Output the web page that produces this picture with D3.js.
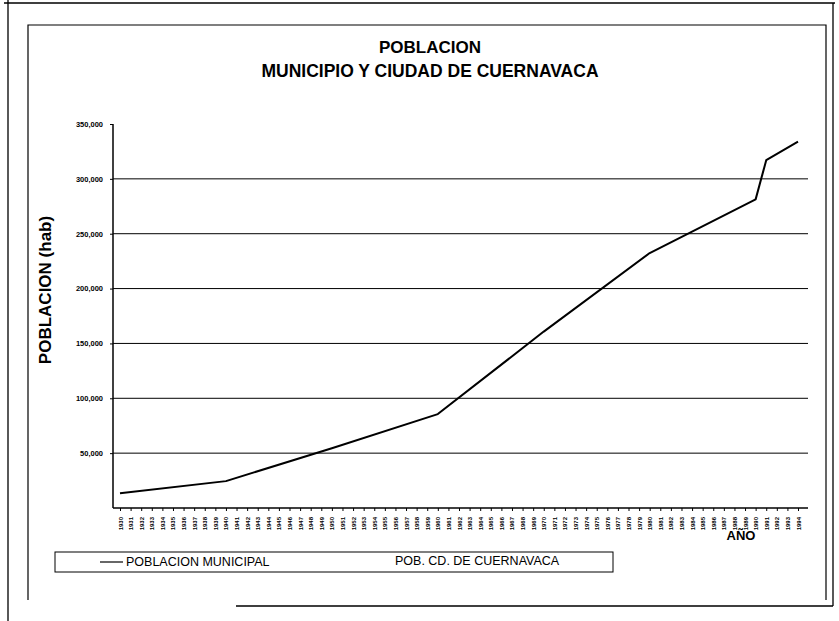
<!DOCTYPE html>
<html>
<head>
<meta charset="utf-8">
<script src="https://cdn.jsdelivr.net/npm/d3@7"></script>
<style>
  body { margin: 0; background: #fff; }
  svg { display: block; }
  .tick text { font-family: "Liberation Sans Narrow", "Liberation Sans", Arial, sans-serif; font-weight: bold; }
</style>
</head>
<body>
<svg id="canvas" width="839" height="621"></svg>
<script>
// category labels on the x axis (one per year)
var years = d3.range(1930, 1995);
// values at the visible break points of the curve
var pointYears = [1930, 1940, 1950, 1960, 1970, 1980, 1990, 1991, 1994];
var poblacion = [13500, 24500, 54500, 85600, 160800, 232400, 281300, 317000, 334000];
var yTicks = [50000, 100000, 150000, 200000, 250000, 300000, 350000];
var yTickLabels = ["50,000", "100,000", "150,000", "200,000", "250,000", "300,000", "350,000"];

var svg = d3.select("#canvas");

// page frame (scan borders)
svg.append("path")
    .attr("d", "M8,0 L8,621 M4,3 L835,3 M833,3 L833,606 M236,606 L833,606")
    .attr("fill", "none").attr("stroke", "#000").attr("stroke-width", 1.3);

// chart frame
svg.append("path")
    .attr("d", "M28,600 L28,25 L826,25 L826,600")
    .attr("fill", "none").attr("stroke", "#000").attr("stroke-width", 1.2);

// title
svg.append("text").attr("x", 430).attr("y", 53).attr("text-anchor", "middle")
    .attr("font-family", "Liberation Sans, Arial, sans-serif").attr("font-weight", "bold")
    .attr("font-size", 17).text("POBLACION");
svg.append("text").attr("x", 430).attr("y", 77).attr("text-anchor", "middle")
    .attr("font-family", "Liberation Sans, Arial, sans-serif").attr("font-weight", "bold")
    .attr("font-size", 17.5).text("MUNICIPIO Y CIUDAD DE CUERNAVACA");

var x = d3.scalePoint().domain(years).range([120, 798]);
var y = d3.scaleLinear().domain([0, 350000]).range([508, 124]);

// gridlines
svg.append("g").selectAll("line")
    .data(yTicks.slice(0, -1))
    .enter().append("line")
    .attr("x1", 113).attr("x2", 808)
    .attr("y1", function(d){ return y(d); })
    .attr("y2", function(d){ return y(d); })
    .attr("stroke", "#000").attr("stroke-width", 1);

// y axis
var yAxis = d3.axisLeft(y).tickValues(yTicks)
    .tickFormat(function(d, i){ return yTickLabels[i]; })
    .tickSize(3).tickPadding(7);
var gy = svg.append("g").attr("transform", "translate(113,0)").call(yAxis);
gy.select(".domain").attr("d", "M0,124V508").attr("stroke-width", 1.5);
gy.selectAll("text").attr("font-size", 7.5);

// x axis
var xAxis = d3.axisBottom(x).tickSize(3).tickPadding(3);
var gx = svg.append("g").attr("transform", "translate(0,508)").call(xAxis);
gx.select(".domain").attr("d", "M113,0H808").attr("stroke-width", 1.5);
gx.selectAll("text")
    .attr("font-size", 6)
    .attr("transform", "rotate(-90)")
    .attr("text-anchor", "end")
    .attr("x", -4).attr("y", 0)
    .attr("dx", -5).attr("dy", 2);

// axis titles
svg.append("text")
    .attr("transform", "translate(51,290) rotate(-90)")
    .attr("text-anchor", "middle")
    .attr("font-family", "Liberation Sans, Arial, sans-serif").attr("font-weight", "bold")
    .attr("font-size", 17).text("POBLACION (hab)");
svg.append("text").attr("x", 741).attr("y", 540).attr("text-anchor", "middle")
    .attr("font-family", "Liberation Sans, Arial, sans-serif").attr("font-weight", "bold")
    .attr("font-size", 13).text("AÑO");

// series
var pts = pointYears.map(function(yr, i){ return {year: yr, value: poblacion[i]}; });
var line = d3.line()
    .x(function(d){ return x(d.year); })
    .y(function(d){ return y(d.value); })
    .curve(d3.curveLinear);
svg.append("path").datum(pts)
    .attr("d", line)
    .attr("fill", "none").attr("stroke", "#000").attr("stroke-width", 2)
    .attr("stroke-linejoin", "round");

// legend
svg.append("rect").attr("x", 55).attr("y", 552).attr("width", 558).attr("height", 20)
    .attr("fill", "none").attr("stroke", "#000").attr("stroke-width", 1);
svg.append("line").attr("x1", 100).attr("x2", 123).attr("y1", 562).attr("y2", 562)
    .attr("stroke", "#000").attr("stroke-width", 1.2);
svg.append("text").attr("x", 126).attr("y", 566)
    .attr("font-family", "Liberation Sans, Arial, sans-serif")
    .attr("font-size", 12.5).text("POBLACION MUNICIPAL");
svg.append("text").attr("x", 395).attr("y", 565)
    .attr("font-family", "Liberation Sans, Arial, sans-serif")
    .attr("font-size", 12.5).text("POB. CD. DE CUERNAVACA");
</script>
</body>
</html>
